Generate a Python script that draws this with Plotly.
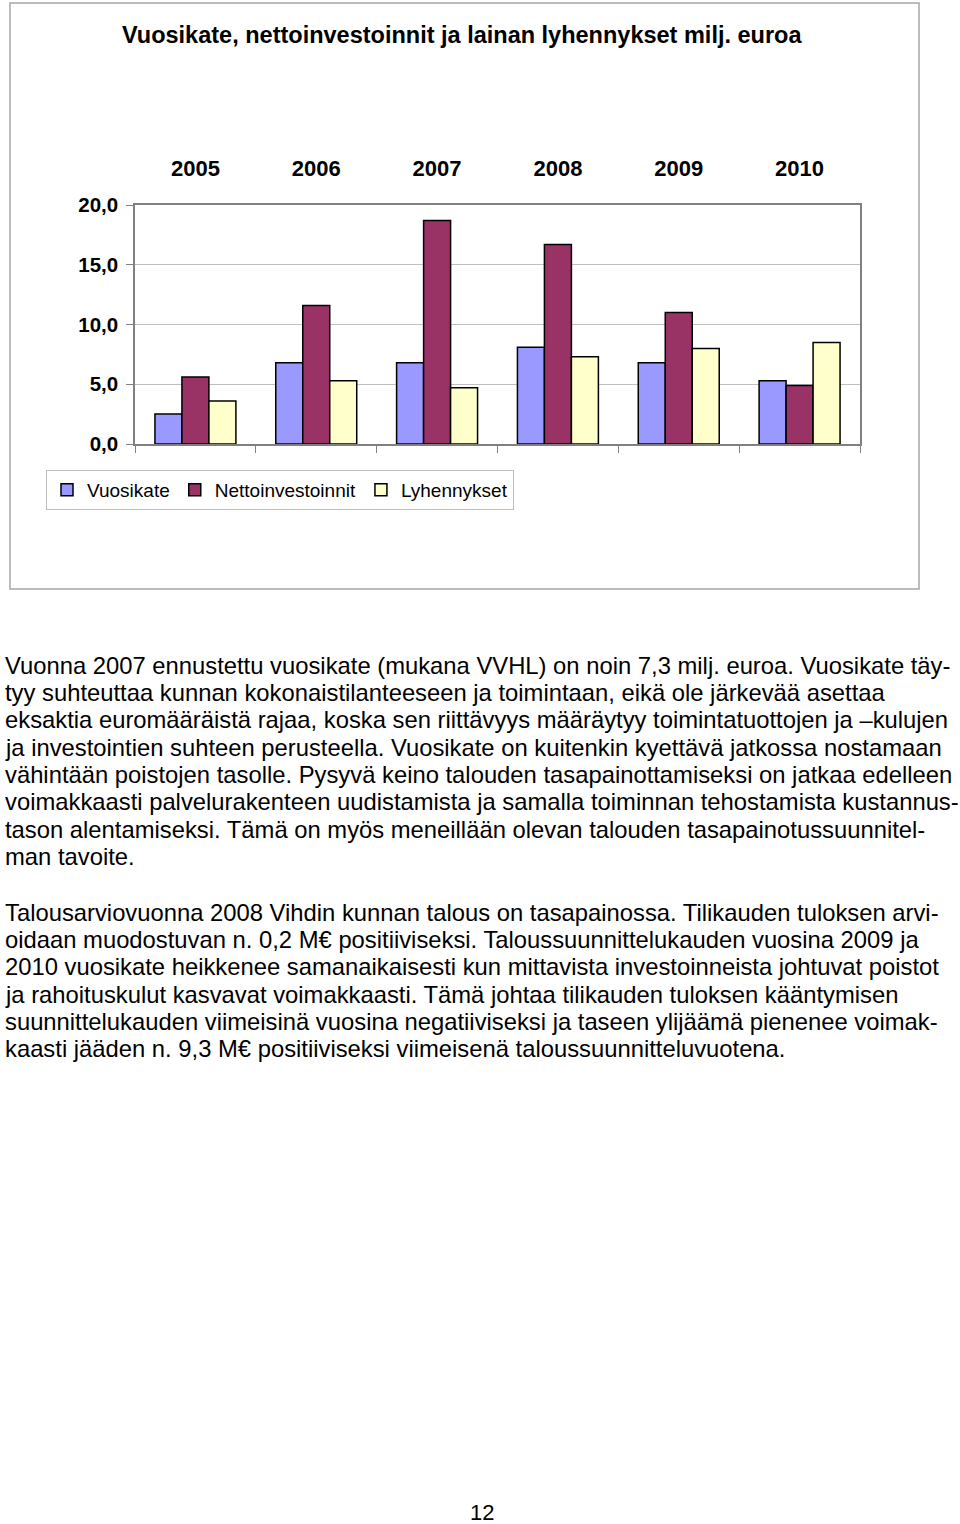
import plotly.graph_objects as go

years = ["2005", "2006", "2007", "2008", "2009", "2010"]
vuosikate = [2.5, 6.8, 6.8, 8.1, 6.8, 5.3]
nettoinvestoinnit = [5.6, 11.6, 18.7, 16.7, 11.0, 4.9]
lyhennykset = [3.6, 5.3, 4.7, 7.3, 8.0, 8.5]

series_names = ["Vuosikate", "Nettoinvestoinnit", "Lyhennykset"]
series_colors = ["#9999FF", "#993366", "#FFFFCC"]

title_text = "Vuosikate, nettoinvestoinnit ja lainan lyhennykset milj. euroa"
y_ticks = [0, 5, 10, 15, 20]

para1 = [
    "Vuonna 2007 ennustettu vuosikate (mukana VVHL) on noin 7,3 milj. euroa. Vuosikate täy-",
    "tyy suhteuttaa kunnan kokonaistilanteeseen ja toimintaan, eikä ole järkevää asettaa",
    "eksaktia euromääräistä rajaa, koska sen riittävyys määräytyy toimintatuottojen ja –kulujen",
    "ja investointien suhteen perusteella. Vuosikate on kuitenkin kyettävä jatkossa nostamaan",
    "vähintään poistojen tasolle. Pysyvä keino talouden tasapainottamiseksi on jatkaa edelleen",
    "voimakkaasti palvelurakenteen uudistamista ja samalla toiminnan tehostamista kustannus-",
    "tason alentamiseksi. Tämä on myös meneillään olevan talouden tasapainotussuunnitel-",
    "man tavoite.",
]
para2 = [
    "Talousarviovuonna 2008 Vihdin kunnan talous on tasapainossa. Tilikauden tuloksen arvi-",
    "oidaan muodostuvan n. 0,2 M€ positiiviseksi. Taloussuunnittelukauden vuosina 2009 ja",
    "2010 vuosikate heikkenee samanaikaisesti kun mittavista investoinneista johtuvat poistot",
    "ja rahoituskulut kasvavat voimakkaasti. Tämä johtaa tilikauden tuloksen kääntymisen",
    "suunnittelukauden viimeisinä vuosina negatiiviseksi ja taseen ylijäämä pienenee voimak-",
    "kaasti jääden n. 9,3 M€ positiiviseksi viimeisenä taloussuunnitteluvuotena.",
]
page_number = "12"

W, H = 960, 1524
def py(y):
    return 1 - y / H
def px(x):
    return x / W

fig = go.Figure()
for name, vals, col in zip(series_names, [vuosikate, nettoinvestoinnit, lyhennykset], series_colors):
    fig.add_trace(go.Bar(
        x=years, y=vals, name=name,
        marker=dict(color=col, line=dict(color="#000000", width=1.5)),
    ))
# invisible trace for the top year-label axis
fig.add_trace(go.Scatter(x=list(range(len(years))), y=[None]*len(years), xaxis="x2",
                         showlegend=False, hoverinfo="skip", mode="markers"))

font_base = "Liberation Sans, Arial, sans-serif"

fig.update_layout(
    width=W, height=H,
    margin=dict(l=0, r=0, t=0, b=0, autoexpand=False),
    paper_bgcolor="white", plot_bgcolor="white",
    separators=",.",
    barmode="group", bargap=0.33, bargroupgap=0,
    font=dict(family=font_base, color="#000000"),
    showlegend=True,
    legend=dict(
        orientation="h", x=px(46), y=py(470), xanchor="left", yanchor="top",
        bordercolor="#BFBFBF", borderwidth=1, bgcolor="white",
        font=dict(size=19, family=font_base), traceorder="normal",
        itemwidth=30, tracegroupgap=0,
    ),
    xaxis=dict(
        domain=[px(135), px(860)], anchor="y", type="category",
        showline=True, linecolor="#808080", linewidth=1.5,
        ticks="outside", tickson="boundaries", ticklen=7, tickcolor="#808080",
        showticklabels=False, showgrid=False, zeroline=False,
    ),
    xaxis2=dict(
        domain=[px(135), px(860)], anchor="y", overlaying="x", side="top",
        range=[-0.5, len(years) - 0.5],
        tickmode="array", tickvals=list(range(len(years))), ticktext=years,
        showline=True, linecolor="#808080", linewidth=1.5,
        ticks="", showgrid=False, zeroline=False,
        tickfont=dict(size=22, family=font_base, weight="bold"),
        ticklabelstandoff=18,
    ),
    yaxis=dict(
        domain=[py(444), py(205)], range=[0, 20],
        tickvals=y_ticks, tickformat=".1f",
        showline=True, linecolor="#808080", linewidth=1.5, mirror=True,
        ticks="outside", ticklen=7, tickcolor="#808080",
        showgrid=True, gridcolor="#C0C0C0", gridwidth=1, zeroline=False,
        tickfont=dict(size=20.5, family=font_base, weight="bold"),
        ticklabelstandoff=4,
    ),
)

shapes = [dict(type="rect", xref="paper", yref="paper",
               x0=px(10), x1=px(919), y0=py(589), y1=py(3),
               line=dict(color="#A6A6A6", width=1.5), fillcolor="rgba(0,0,0,0)", layer="below")]
fig.update_layout(shapes=shapes)

annotations = [dict(text=title_text, xref="paper", yref="paper", x=px(462), y=py(35),
                    xanchor="center", yanchor="middle", showarrow=False,
                    font=dict(size=23.5, family=font_base, weight="bold"))]
line_h = 27.35
for i, line in enumerate(para1):
    annotations.append(dict(text=line, xref="paper", yref="paper", x=px(3), y=py(665 + i * line_h),
                            xanchor="left", yanchor="middle", showarrow=False,
                            font=dict(size=23.8, family=font_base)))
for i, line in enumerate(para2):
    annotations.append(dict(text=line, xref="paper", yref="paper", x=px(3), y=py(912 + i * line_h),
                            xanchor="left", yanchor="middle", showarrow=False,
                            font=dict(size=23.8, family=font_base)))
annotations.append(dict(text=page_number, xref="paper", yref="paper", x=px(482), y=py(1512),
                        xanchor="center", yanchor="middle", showarrow=False,
                        font=dict(size=22, family=font_base)))
fig.update_layout(annotations=annotations)

fig.write_html("out.html")
